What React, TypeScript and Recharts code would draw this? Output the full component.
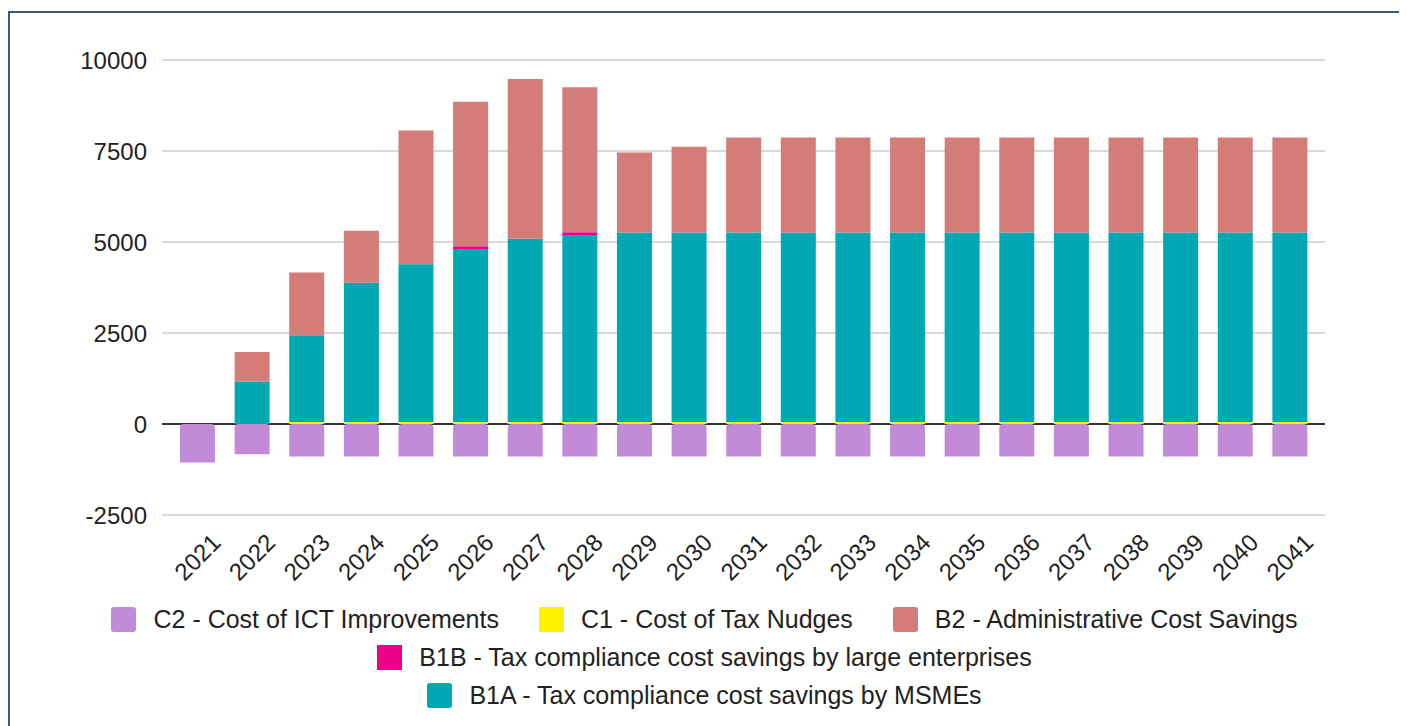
import React from "react";
import {
  BarChart,
  Bar,
  XAxis,
  YAxis,
  CartesianGrid,
  ReferenceLine,
} from "recharts";

const years = [
  "2021", "2022", "2023", "2024", "2025", "2026", "2027", "2028", "2029", "2030",
  "2031", "2032", "2033", "2034", "2035", "2036", "2037", "2038", "2039", "2040", "2041",
];

// C2 - Cost of ICT Improvements (negative)
const c2Values = [
  -1060, -830, -890, -890, -890, -890, -890, -890, -890, -890,
  -890, -890, -890, -890, -890, -890, -890, -890, -890, -890, -890,
];
// C1 - Cost of Tax Nudges
const c1Values = [
  0, 0, 55, 55, 55, 55, 55, 55, 55, 55,
  55, 55, 55, 55, 55, 55, 55, 55, 55, 55, 55,
];
// B1A - Tax compliance cost savings by MSMEs
const b1aValues = [
  0, 1170, 2385, 3825, 4335, 4755, 5035, 5135, 5205, 5205,
  5205, 5205, 5205, 5205, 5205, 5205, 5205, 5205, 5205, 5205, 5205,
];
// B1B - Tax compliance cost savings by large enterprises
const b1bValues = [
  0, 0, 0, 0, 0, 70, 0, 75, 0, 0,
  0, 0, 0, 0, 0, 0, 0, 0, 0, 0, 0,
];
// B2 - Administrative Cost Savings
const b2Values = [
  0, 810, 1725, 1430, 3670, 3970, 4390, 3985, 2200, 2360,
  2610, 2610, 2610, 2610, 2610, 2610, 2610, 2610, 2610, 2610, 2610,
];

const yTicks = [-2500, 0, 2500, 5000, 7500, 10000];

const colors = {
  c2: "#c38ad8",
  c1: "#fff200",
  b2: "#d47c77",
  b1b: "#ec008b",
  b1a: "#00a8b4",
};

const legendRows = [
  [
    { label: "C2 - Cost of ICT Improvements", color: colors.c2, round: true },
    { label: "C1 - Cost of Tax Nudges", color: colors.c1, round: false },
    { label: "B2 - Administrative Cost Savings", color: colors.b2, round: true },
  ],
  [{ label: "B1B - Tax compliance cost savings by large enterprises", color: colors.b1b, round: false }],
  [{ label: "B1A - Tax compliance cost savings by MSMEs", color: colors.b1a, round: true }],
];

const data = years.map((year, i) => ({
  year,
  c2: c2Values[i],
  c1: c1Values[i],
  b1a: b1aValues[i],
  b1b: b1bValues[i],
  b2: b2Values[i],
}));

const FONT = '"Liberation Sans", Arial, sans-serif';

const YearTick = (props: any) => {
  const { x, y, payload } = props;
  const cy = y + 42;
  return (
    <text
      x={x}
      y={cy}
      textAnchor="middle"
      dominantBaseline="central"
      fontSize={24}
      fill="#222"
      fontFamily={FONT}
      transform={`rotate(-45, ${x}, ${cy})`}
    >
      {payload.value}
    </text>
  );
};

export default function App() {
  return (
    <div
      style={{
        position: "relative",
        width: 1393,
        height: 718,
        marginTop: 3,
        border: "2px solid #3d5a78",
        borderBottom: "none",
        boxSizing: "border-box",
        background: "#fff",
        fontFamily: FONT,
      }}
    >
      <div style={{ position: "absolute", left: 0, top: 0 }}>
        <BarChart
          width={1389}
          height={600}
          data={data}
          stackOffset="sign"
          barSize={35}
          margin={{ top: 47, right: 74, bottom: 38, left: 0 }}
        >
          <CartesianGrid vertical={false} stroke="#cccccc" strokeWidth={1.5} />
          <XAxis
            dataKey="year"
            axisLine={false}
            tickLine={false}
            tickSize={0}
            tickMargin={0}
            interval={0}
            height={60}
            padding={{ left: 8, right: 8 }}
            tick={<YearTick />}
          />
          <YAxis
            domain={[-2500, 10000]}
            ticks={yTicks}
            width={152}
            axisLine={false}
            tickLine={false}
            tickSize={0}
            tickMargin={15}
            tick={{ fontSize: 24, fill: "#222", fontFamily: FONT }}
          />
          <ReferenceLine y={0} stroke="#333" strokeWidth={2} zIndex={0} />
          <Bar dataKey="c2" stackId="a" fill={colors.c2} radius={[0, 0, 4, 4]} isAnimationActive={false} />
          <Bar dataKey="c1" stackId="a" fill={colors.c1} isAnimationActive={false} />
          <Bar dataKey="b1a" stackId="a" fill={colors.b1a} isAnimationActive={false} />
          <Bar dataKey="b1b" stackId="a" fill={colors.b1b} isAnimationActive={false} />
          <Bar dataKey="b2" stackId="a" fill={colors.b2} isAnimationActive={false} />
        </BarChart>
      </div>
      <div style={{ position: "absolute", left: 0, top: 587, width: 1389 }}>
        {legendRows.map((row, r) => (
          <div
            key={r}
            style={{
              height: 38,
              display: "flex",
              justifyContent: "center",
              alignItems: "center",
              gap: 40,
            }}
          >
            {row.map((item) => (
              <div key={item.label} style={{ display: "flex", alignItems: "center" }}>
                <span
                  style={{
                    display: "inline-block",
                    width: 25,
                    height: 25,
                    background: item.color,
                    borderRadius: item.round ? 3 : 0,
                    marginRight: 17,
                  }}
                />
                <span style={{ fontSize: 25, color: "#222" }}>{item.label}</span>
              </div>
            ))}
          </div>
        ))}
      </div>
    </div>
  );
}
